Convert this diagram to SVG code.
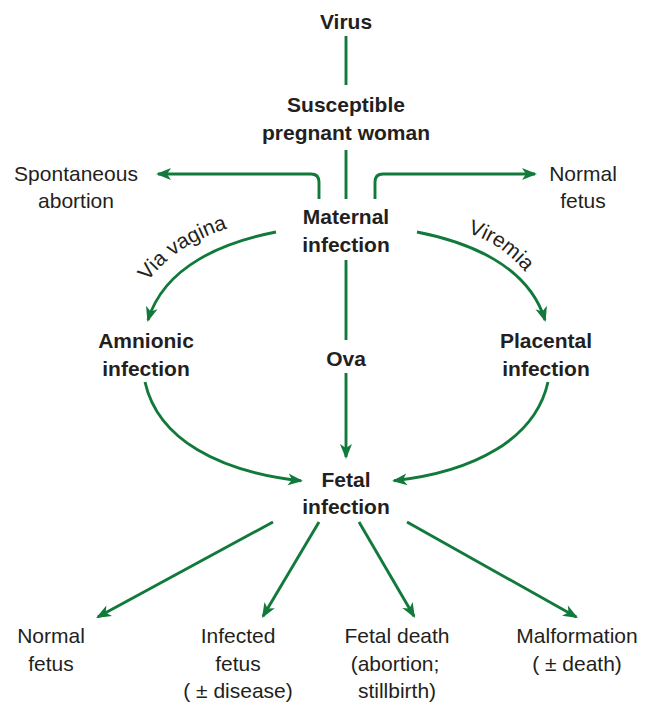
<svg xmlns="http://www.w3.org/2000/svg" width="652" height="705" viewBox="0 0 652 705">
<style>
text{font-family:"Liberation Sans",Arial,Helvetica,sans-serif;font-size:21px;fill:#231f20;text-anchor:middle}
.b{font-weight:bold}
.c{fill:none;stroke:#117a3a;stroke-width:2.9}
.a{marker-end:url(#ah)}
</style>
<defs>
<marker id="ah" viewBox="-15 -8 18 16" refX="0" refY="0" markerWidth="18" markerHeight="16" markerUnits="userSpaceOnUse" orient="auto">
<path d="M2,0 L-13,-6 L-9,0 L-13,6 Z" fill="#117a3a"/>
</marker>
<path id="tp1" d="M139,295 Q168,243 243,224"/>
<path id="tp2" d="M460,231 Q502,241 530,278"/>
</defs>
<rect width="652" height="705" fill="#fff"/>
<g id="connectors">
<path class="c" d="M346,36 V85"/>
<path class="c" d="M346,150 V199"/>
<path class="c a" d="M319,199 V182 Q319,174 311,174 H158"/>
<path class="c a" d="M375,199 V182 Q375,174 383,174 H535"/>
<path class="c a" d="M276,232 C225,242 165,265 148,320"/>
<path class="c a" d="M417,232 C468,242 528,265 545,320"/>
<path class="c" d="M346,260 V340"/>
<path class="c a" d="M346,373 V457"/>
<path class="c a" d="M145,382 C158,440 220,472 301,480.8"/>
<path class="c a" d="M548,382 C535,440 473,472 394,480.8"/>
<path class="c a" d="M273,522 L97.8,617"/>
<path class="c a" d="M319,522 L263,616.3"/>
<path class="c a" d="M359,522 L414,616.3"/>
<path class="c a" d="M407,522 L576.3,617"/>
</g>
<g id="edge-labels">
<text><textPath href="#tp1" startOffset="50%">Via vagina</textPath></text>
<text><textPath href="#tp2" startOffset="50%">Viremia</textPath></text>
</g>
<g id="virus"><text class="b" x="346" y="29">Virus</text></g>
<g id="woman"><text class="b" x="346" y="112">Susceptible</text><text class="b" x="346" y="140">pregnant woman</text></g>
<g id="abortion"><text x="76" y="181">Spontaneous</text><text x="76" y="208">abortion</text></g>
<g id="normal-top"><text x="583" y="181">Normal</text><text x="583" y="208">fetus</text></g>
<g id="maternal"><text class="b" x="346" y="224">Maternal</text><text class="b" x="346" y="252">infection</text></g>
<g id="amnionic"><text class="b" x="146" y="348">Amnionic</text><text class="b" x="146" y="376">infection</text></g>
<g id="ova"><text class="b" x="346" y="366">Ova</text></g>
<g id="placental"><text class="b" x="546" y="348">Placental</text><text class="b" x="546" y="376">infection</text></g>
<g id="fetal"><text class="b" x="346" y="487">Fetal</text><text class="b" x="346" y="514">infection</text></g>
<g id="normal-bottom"><text x="51" y="643">Normal</text><text x="51" y="671">fetus</text></g>
<g id="infected"><text x="238" y="643">Infected</text><text x="238" y="671">fetus</text><text x="238" y="698">( ± disease)</text></g>
<g id="death"><text x="397" y="643">Fetal death</text><text x="395" y="671">(abortion;</text><text x="397" y="698">stillbirth)</text></g>
<g id="malformation"><text x="577" y="643">Malformation</text><text x="577" y="671">( ± death)</text></g>
</svg>
